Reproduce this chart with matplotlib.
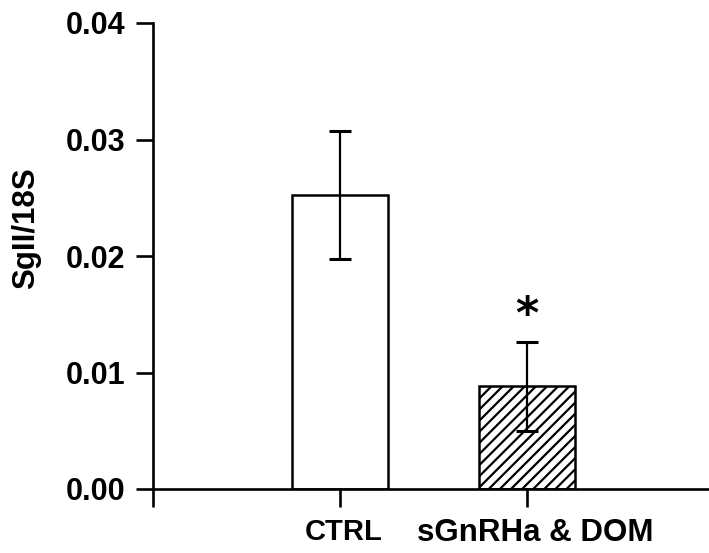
import matplotlib
matplotlib.use("Agg")
import matplotlib.pyplot as plt
from matplotlib.transforms import ScaledTranslation

plt.rcParams['font.family'] = ['Liberation Sans', 'DejaVu Sans']
plt.rcParams['font.weight'] = 'bold'
plt.rcParams['hatch.linewidth'] = 1.6

# Data
categories = ["CTRL", "sGnRHa & DOM"]
means = [0.0252, 0.0088]
errors = [0.0055, 0.0038]
hatches = ["", "///"]
yticks = [0.00, 0.01, 0.02, 0.03, 0.04]
ylabel = "SgII/18S"
sig_mark = "*"

fig = plt.figure(figsize=(7.09, 5.53), dpi=100)
W, H = 709, 553
left_px, right_px, top_px, bottom_px = 153, 709, 23, 489
ax = fig.add_axes([left_px / W, 1 - bottom_px / H,
                   (right_px - left_px) / W, (bottom_px - top_px) / H])

pos = [1, 2]
for x, m, e, h in zip(pos, means, errors, hatches):
    ax.bar(x, m, width=0.51, color="white", edgecolor="black",
           linewidth=1.8, hatch=h, zorder=2)
    ax.errorbar(x, m, yerr=e, fmt="none", ecolor="black",
                elinewidth=1.6, capsize=8, capthick=2.2, zorder=3)

# significance marker above the treated group
ax.text(pos[1], 0.0149, sig_mark, ha="center", va="center",
        fontsize=32, fontweight="bold", family="DejaVu Sans")

ax.set_xlim(0, (right_px - left_px) / 187)
ax.set_ylim(0, 0.04)
ax.set_yticks(yticks)
ax.set_yticklabels([f"{v:.2f}" for v in yticks])
ax.set_xticks([0] + pos)
ax.set_xticklabels([""] + categories)

for s in ["top", "right"]:
    ax.spines[s].set_visible(False)
for s in ["left", "bottom"]:
    ax.spines[s].set_linewidth(1.9)

ax.tick_params(axis="y", direction="out", length=12, width=1.9, pad=8,
               labelsize=22)
ax.tick_params(axis="x", direction="out", length=13, width=1.9, pad=8,
               labelsize=21)
for lbl in ax.get_xticklabels() + ax.get_yticklabels():
    lbl.set_fontweight("bold")

xlabels = ax.get_xticklabels()
xlabels[1].set_fontsize(21)
xlabels[1].set_transform(xlabels[1].get_transform() +
                         ScaledTranslation(4 / 100, 0, fig.dpi_scale_trans))
xlabels[2].set_fontsize(22.5)
xlabels[2].set_transform(xlabels[2].get_transform() +
                         ScaledTranslation(8 / 100, 0, fig.dpi_scale_trans))

fig.text(26 / W, 1 - 228 / H, ylabel, rotation=90, ha="center",
         va="center", fontsize=22.5, fontweight="bold")

fig.savefig("out.png", dpi=100)
